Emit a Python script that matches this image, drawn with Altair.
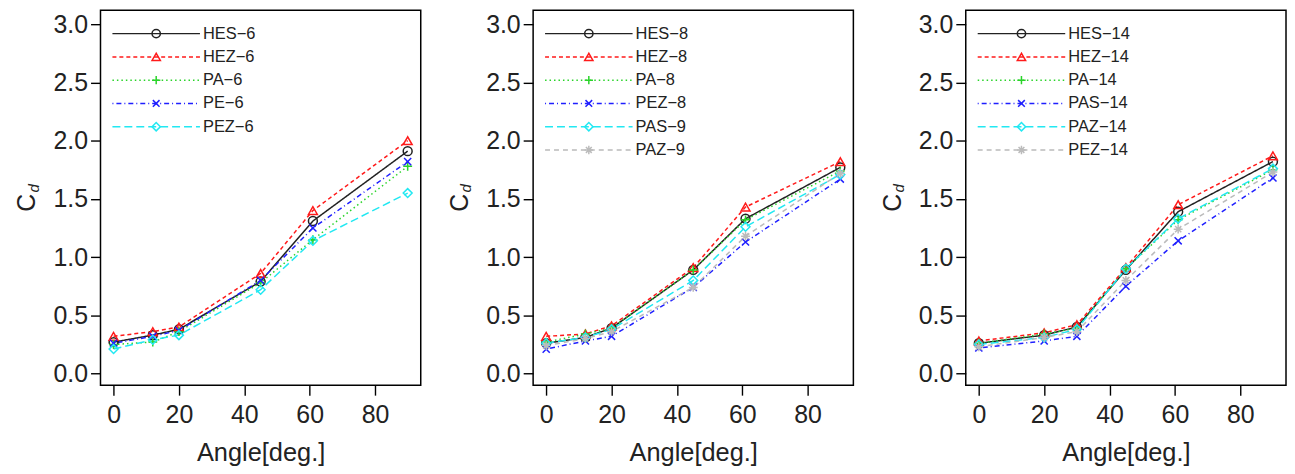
import altair as alt
import pandas as pd

FONT = "Liberation Sans, Arial, Helvetica, sans-serif"

# ---- data -------------------------------------------------------------
p1_angles = [0, 12, 20, 45, 61, 90]
p1_names = ["HES−6", "HEZ−6", "PA−6", "PE−6", "PEZ−6"]
p1_hes = [0.27, 0.33, 0.38, 0.79, 1.31, 1.91]
p1_hez = [0.32, 0.36, 0.40, 0.86, 1.40, 2.00]
p1_pa = [0.25, 0.27, 0.36, 0.78, 1.15, 1.78]
p1_pe = [0.26, 0.32, 0.37, 0.80, 1.25, 1.82]
p1_pez = [0.21, 0.29, 0.33, 0.72, 1.14, 1.55]

p2_angles = [0, 12, 20, 45, 61, 90]
p2_names = ["HES−8", "HEZ−8", "PA−8", "PEZ−8", "PAS−9", "PAZ−9"]
p2_hes = [0.26, 0.31, 0.39, 0.89, 1.33, 1.77]
p2_hez = [0.32, 0.34, 0.41, 0.91, 1.43, 1.82]
p2_pa = [0.27, 0.34, 0.39, 0.89, 1.32, 1.74]
p2_pez = [0.21, 0.28, 0.32, 0.74, 1.13, 1.67]
p2_pas = [0.26, 0.31, 0.38, 0.80, 1.26, 1.71]
p2_paz = [0.24, 0.30, 0.36, 0.74, 1.18, 1.72]

p3_angles = [0, 20, 30, 45, 61, 90]
p3_names = ["HES−14", "HEZ−14", "PA−14", "PAS−14", "PAZ−14", "PEZ−14"]
p3_hes = [0.26, 0.33, 0.40, 0.89, 1.39, 1.82]
p3_hez = [0.28, 0.35, 0.42, 0.91, 1.45, 1.87]
p3_pa = [0.26, 0.34, 0.39, 0.90, 1.32, 1.75]
p3_pas = [0.22, 0.28, 0.32, 0.75, 1.14, 1.68]
p3_paz = [0.25, 0.31, 0.38, 0.90, 1.33, 1.76]
p3_pez = [0.23, 0.31, 0.36, 0.80, 1.24, 1.73]

x_ticks = [0, 20, 40, 60, 80]
y_ticks = [0, 0.5, 1.0, 1.5, 2.0, 2.5, 3.0]

# ---- styles (one per series position in each panel) -------------------
style_keys = ["s0", "s1", "s2", "s3", "s4", "s5"]
style_colors = ["#222222", "#ff1a1a", "#2ad42a", "#1f1fff", "#22e8f2", "#bbbbbb"]
style_dashes = [[1, 0], [4, 3], [1.5, 3], [1, 3, 5, 3], [8, 4], [5, 4]]
style_shapes = [
    "circle",
    "triangle-up",
    "M-1,0L1,0M0,-1L0,1",
    "M-0.8,-0.8L0.8,0.8M-0.8,0.8L0.8,-0.8",
    "diamond",
    "M-1,0L1,0M0,-1L0,1M-0.7,-0.7L0.7,0.7M-0.7,0.7L0.7,-0.7",
]

color = alt.Color("style:N", scale=alt.Scale(domain=style_keys, range=style_colors), legend=None)
dash = alt.StrokeDash("style:N", scale=alt.Scale(domain=style_keys, range=style_dashes), legend=None)
shape = alt.Shape("style:N", scale=alt.Scale(domain=style_keys, range=style_shapes), legend=None)


def panel(angles, names, values):
    n = len(names)
    rows = []
    for i, (name, vals) in enumerate(zip(names, values)):
        for a, v in zip(angles, vals):
            rows.append({"series": name, "style": style_keys[i], "angle": a, "cd": v})
    df = pd.DataFrame(rows)
    leg = pd.DataFrame({"series": names, "style": style_keys[:n], "row": list(range(n))})

    x = alt.X("angle:Q", scale=alt.Scale(domain=[-4, 94], nice=False, zero=False),
              axis=alt.Axis(values=x_ticks, title="Angle[deg.]"))
    y = alt.Y("cd:Q", scale=alt.Scale(domain=[-0.1, 3.12], nice=False, zero=False),
              axis=alt.Axis(values=y_ticks, format=".1f", title="C", titleX=-66, titleY=193,
                            titleAngle=270, titleBaseline="alphabetic", titleAlign="center"))

    base = alt.Chart(df)
    lines = base.mark_line(strokeWidth=1.5).encode(x=x, y=y, color=color, strokeDash=dash, detail="series:N")
    pts = base.mark_point(filled=False, size=80, strokeWidth=1.5, opacity=1).encode(x=x, y=y, color=color, shape=shape)
    data_layer = alt.layer(lines, pts)

    rowy = alt.Y("row:Q", scale=alt.Scale(domain=[0, 5], range=[23.5, 23.5 + 5 * 23.4], nice=False, zero=False),
                 axis=None)
    lb = alt.Chart(leg)
    lrule = lb.mark_rule(strokeWidth=1.5).encode(x=alt.value(12), x2=alt.value(100), y=rowy,
                                                 color=color, strokeDash=dash)
    lpt = lb.mark_point(filled=False, size=70, strokeWidth=1.5, opacity=1).encode(
        x=alt.value(56), y=rowy, color=color, shape=shape)
    ltxt = lb.mark_text(align="left", baseline="middle", font=FONT, fontSize=16.5, color="#222222").encode(
        x=alt.value(103), y=rowy, text="series:N")
    legend_layer = alt.layer(lrule, lpt, ltxt)

    sub = alt.Chart(pd.DataFrame({"t": ["d"]})).mark_text(
        font=FONT, fontSize=15, fontStyle="italic", angle=270, align="center",
        baseline="alphabetic", color="#222222").encode(x=alt.value(-62), y=alt.value(179), text="t:N")

    return alt.layer(data_layer, legend_layer, sub).resolve_scale(y="independent").properties(
        width=322, height=377)


c1 = panel(p1_angles, p1_names, [p1_hes, p1_hez, p1_pa, p1_pe, p1_pez])
c2 = panel(p2_angles, p2_names, [p2_hes, p2_hez, p2_pa, p2_pez, p2_pas, p2_paz])
c3 = panel(p3_angles, p3_names, [p3_hes, p3_hez, p3_pa, p3_pas, p3_paz, p3_pez])

chart = (
    alt.hconcat(c1, c2, c3, spacing=25)
    .properties(padding={"left": 6, "top": 0, "right": 0, "bottom": 0}, background="white")
    .configure_view(stroke="black", strokeWidth=1.5)
    .configure_axis(
        labelFont=FONT, titleFont=FONT, labelColor="#222222", titleColor="#222222",
        labelFontSize=25, titleFontWeight="normal", tickColor="black", tickWidth=1.4,
        tickSize=10, domain=False, grid=False,
    )
    .configure_axisX(labelPadding=8, titlePadding=13, titleFontSize=25.5)
    .configure_axisY(labelPadding=3, titleFontSize=25)
)

chart.save("out.html", embed_options={"renderer": "svg", "actions": False})
